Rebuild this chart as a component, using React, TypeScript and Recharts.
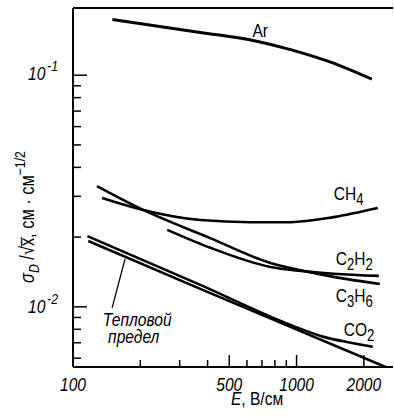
import React from 'react';
import { LineChart, Line, XAxis, YAxis, ReferenceLine, ReferenceDot } from 'recharts';

// E, V/cm (log axis)
const E_TICKS = [100, 200, 300, 400, 500, 600, 700, 800, 900, 1000, 2000];
const E_LABELS = [100, 500, 1000, 2000];
const E_LONG = [500, 1000, 2000];

// sigma_D / sqrt(x) (log axis)
const SIGMA_TICKS = [0.006, 0.007, 0.008, 0.009, 0.01, 0.02, 0.03, 0.04, 0.05, 0.06, 0.07, 0.08, 0.09, 0.1];
const SIGMA_LABELS = [0.1, 0.01];
const SIGMA_EXP = ['-1', '-2'];

const arE = [150, 371, 655, 940, 1421, 2170];
const arSigma = [0.174, 0.153, 0.1405, 0.129, 0.1138, 0.0961];

const ch4E = [135, 206, 371, 622, 940, 1466, 2308];
const ch4Sigma = [0.0295, 0.0262, 0.0237, 0.0232, 0.0232, 0.0244, 0.0267];

const c3h6E = [128, 206, 411, 764, 1042, 1466, 2356];
const c3h6Sigma = [0.0332, 0.0262, 0.0198, 0.01547, 0.0144, 0.01347, 0.01256];

const c2h2E = [264, 411, 764, 1042, 1466, 2332];
const c2h2Sigma = [0.0215, 0.018, 0.01487, 0.0143, 0.0139, 0.0136];

const co2E = [116, 371, 940, 1321, 1746, 2192];
const co2Sigma = [0.0202, 0.01244, 0.00836, 0.00742, 0.007, 0.00672];

const thermalE = [117, 371, 2500];
const thermalSigma = [0.01925, 0.01196, 0.0055];

const toPoints = (e: number[], s: number[]) => e.map((v, i) => ({ E: v, sigma: s[i] }));

const FONT = "'Liberation Sans', Arial, sans-serif";
const SX = 0.82; // the drawing uses a tall narrow lettering

// narrow text: scaled horizontally around its anchor point
const NText = ({ x, y, anchor = 'start', italic = false, size = 18, rotate = 0, children }: any) => (
  <text
    transform={`translate(${x},${y}) rotate(${rotate}) scale(${SX},1)`}
    textAnchor={anchor}
    fontFamily={FONT}
    fontStyle={italic ? 'italic' : 'normal'}
    fontSize={size}
    fill="#000"
  >
    {children}
  </text>
);

const XTick = (props: any) => {
  const { x, y, payload } = props;
  const v = payload.value;
  const len = v === 100 ? 0 : E_LONG.includes(v) ? 12 : 7;
  return (
    <g>
      {len > 0 && <line x1={x} x2={x} y1={y} y2={y - len} stroke="#000" strokeWidth={1.5} />}
      {E_LABELS.includes(v) && (
        <NText x={x} y={y + 24} anchor="middle" italic size={19}>
          {v}
        </NText>
      )}
    </g>
  );
};

const YTick = (props: any) => {
  const { x, y, payload } = props;
  const v = payload.value;
  const idx = SIGMA_LABELS.indexOf(v);
  const len = idx >= 0 ? 14 : 8;
  return (
    <g>
      <line x1={x} x2={x + len} y1={y} y2={y} stroke="#000" strokeWidth={1.5} />
      {idx >= 0 && (
        <NText x={x - 15} y={y + 5 + idx} anchor="end" italic size={19}>
          10
          <tspan dx={2} dy={-9} fontSize={15}>{SIGMA_EXP[idx]}</tspan>
        </NText>
      )}
    </g>
  );
};

// chemical formula: pairs of [symbol, subscript]
const formula = (parts: string[][]) =>
  parts.map(([main, s], i) => (
    <React.Fragment key={i}>
      <tspan dy={i === 0 ? 0 : -5}>{main}</tspan>
      {s && <tspan dy={5} fontSize={16}>{s}</tspan>}
    </React.Fragment>
  ));

const Annot = (text: React.ReactNode, italic = false) => (p: any) => (
  <NText x={p.cx} y={p.cy} italic={italic} size={19}>
    {text}
  </NText>
);

export default function App() {
  const lineProps = {
    dataKey: 'sigma',
    type: 'monotone' as const,
    stroke: '#000',
    dot: false,
    activeDot: false,
    isAnimationActive: false,
  };
  return (
    <div style={{ width: 394, height: 417, background: '#fff' }}>
      <style>{`body{margin:0}`}</style>
      <LineChart width={394} height={417} margin={{ top: 8, right: 1, bottom: 0, left: 0 }}>
        <XAxis
          dataKey="E"
          type="number"
          scale="log"
          domain={[100, 2700]}
          allowDataOverflow
          ticks={E_TICKS}
          interval={0}
          tickSize={0}
          tickMargin={0}
          tickLine={false}
          tick={<XTick />}
          height={50}
          axisLine={{ stroke: '#000', strokeWidth: 2 }}
          label={{
            content: () => (
              <NText x={257} y={405} anchor="middle" size={19}>
                <tspan fontStyle="italic">E</tspan>, В/см
              </NText>
            ),
          }}
        />
        <YAxis
          dataKey="sigma"
          type="number"
          scale="log"
          domain={[0.0055, 0.195]}
          allowDataOverflow
          ticks={SIGMA_TICKS}
          interval={0}
          tickSize={0}
          tickMargin={0}
          tickLine={false}
          tick={<YTick />}
          width={73}
          axisLine={{ stroke: '#000', strokeWidth: 2 }}
          label={{
            content: () => (
              <NText x={34} y={217} anchor="middle" rotate={-90} size={20}>
                <tspan fontStyle="italic">σ</tspan>
                <tspan dy={5} fontSize={15} fontStyle="italic">D</tspan>
                <tspan dy={-5}> /√x̅, см · см</tspan>
                <tspan dy={-9} fontSize={15}>−1/2</tspan>
              </NText>
            ),
          }}
        />
        <ReferenceLine y={0.195} stroke="#000" strokeWidth={2} />

        <Line {...lineProps} data={toPoints(arE, arSigma)} strokeWidth={3} />
        <Line {...lineProps} data={toPoints(ch4E, ch4Sigma)} strokeWidth={2.6} />
        <Line {...lineProps} data={toPoints(c3h6E, c3h6Sigma)} strokeWidth={2.6} />
        <Line {...lineProps} data={toPoints(c2h2E, c2h2Sigma)} strokeWidth={2.6} />
        <Line {...lineProps} data={toPoints(co2E, co2Sigma)} strokeWidth={2.6} />
        <Line {...lineProps} data={toPoints(thermalE, thermalSigma)} type="linear" strokeWidth={2.6} />

        <ReferenceLine
          segment={[
            { x: 171, y: 0.0161 },
            { x: 149.6, y: 0.0099 },
          ]}
          stroke="#000"
          strokeWidth={1.3}
        />

        <ReferenceDot x={635} y={0.1458} shape={Annot('Ar')} />
        <ReferenceDot x={1466} y={0.0289} shape={Annot(formula([['CH', '4']]))} />
        <ReferenceDot x={1496} y={0.01517} shape={Annot(formula([['C', '2'], ['H', '2']]))} />
        <ReferenceDot x={1496} y={0.01051} shape={Annot(formula([['C', '3'], ['H', '6']]))} />
        <ReferenceDot x={1625} y={0.0075} shape={Annot(formula([['CO', '2']]))} />
        <ReferenceDot x={136} y={0.00828} shape={Annot('Тепловой', true)} />
        <ReferenceDot x={143.5} y={0.007} shape={Annot('предел', true)} />
      </LineChart>
    </div>
  );
}
